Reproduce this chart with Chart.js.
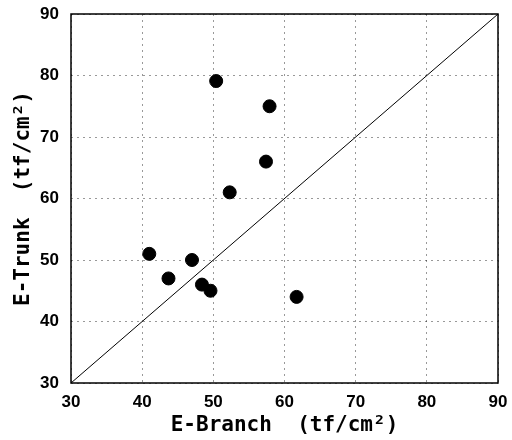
<!DOCTYPE html>
<html>
<head>
<meta charset="utf-8">
<script src="https://cdn.jsdelivr.net/npm/chart.js@4/dist/chart.umd.min.js"></script>
<style>
  html, body { margin: 0; padding: 0; background: #fff; }
  #wrap { width: 512px; height: 440px; }
</style>
</head>
<body>
<div id="wrap"><canvas id="scatterChart" width="512" height="440"></canvas></div>
<script>
// E-Branch vs E-Trunk (tf/cm2)
const branchValues = [50.4, 52.3, 57.9, 57.4, 41.0, 47.0, 43.7, 48.4, 49.6, 61.7];
const trunkValues  = [79.1, 61.0, 75.0, 66.0, 51.0, 50.0, 47.0, 46.0, 45.0, 44.0];
const equalLine = [30, 90];
const axisTicks = [30, 40, 50, 60, 70, 80, 90];

const points = branchValues.map((b, i) => ({ x: b, y: trunkValues[i] }));
const diag = equalLine.map(v => ({ x: v, y: v }));

// frame round the plot area
const frameBox = {
  id: 'frameBox',
  afterDraw(chart) {
    const { ctx, chartArea: a } = chart;
    ctx.save();
    ctx.strokeStyle = '#000';
    ctx.lineWidth = 1.5;
    ctx.strokeRect(a.left, a.top, a.right - a.left, a.bottom - a.top);
    ctx.restore();
  }
};

const tickFont = { family: '"Liberation Sans", Arial, sans-serif', size: 17, weight: 'bold' };
const titleFont = { family: '"DejaVu Sans Mono", monospace', size: 21, weight: 'bold' };

const ctx = document.getElementById('scatterChart').getContext('2d');
new Chart(ctx, {
  type: 'scatter',
  data: {
    datasets: [
      {
        label: 'data',
        data: points,
        backgroundColor: '#000',
        borderColor: '#000',
        pointRadius: 6.5,
        pointHoverRadius: 6.5,
        order: 1
      },
      {
        type: 'line',
        label: '1:1',
        data: diag,
        borderColor: '#000',
        borderWidth: 1,
        pointRadius: 0,
        fill: false,
        order: 2
      }
    ]
  },
  options: {
    responsive: false,
    animation: false,
    layout: { padding: { left: 0, right: 14, top: 14, bottom: 0 } },
    plugins: {
      legend: { display: false },
      tooltip: { enabled: false }
    },
    scales: {
      x: {
        type: 'linear',
        min: 30,
        max: 90,
        afterBuildTicks: s => { s.ticks = axisTicks.map(v => ({ value: v })); },
        afterFit: s => { s.height = 57; s.paddingLeft = 0; s.paddingRight = 0; },
        ticks: { color: '#000', font: tickFont, padding: 9, maxRotation: 0 },
        grid: { color: 'rgba(0,0,0,0.4)', lineWidth: 1, drawTicks: false },
        border: { display: false, dash: [2, 4] },
        title: { display: true, text: 'E-Branch  (tf/cm²)', color: '#000', font: titleFont, padding: { top: 0, bottom: 2 } }
      },
      y: {
        type: 'linear',
        min: 30,
        max: 90,
        afterBuildTicks: s => { s.ticks = axisTicks.map(v => ({ value: v })); },
        afterFit: s => { s.width = 71; s.paddingTop = 0; s.paddingBottom = 0; },
        ticks: { color: '#000', font: tickFont, padding: 12 },
        grid: { color: 'rgba(0,0,0,0.4)', lineWidth: 1, drawTicks: false },
        border: { display: false, dash: [2, 4] },
        title: { display: true, text: 'E-Trunk  (tf/cm²)', color: '#000', font: titleFont, padding: { top: 11, bottom: 0 } }
      }
    }
  },
  plugins: [frameBox]
});
</script>
</body>
</html>
